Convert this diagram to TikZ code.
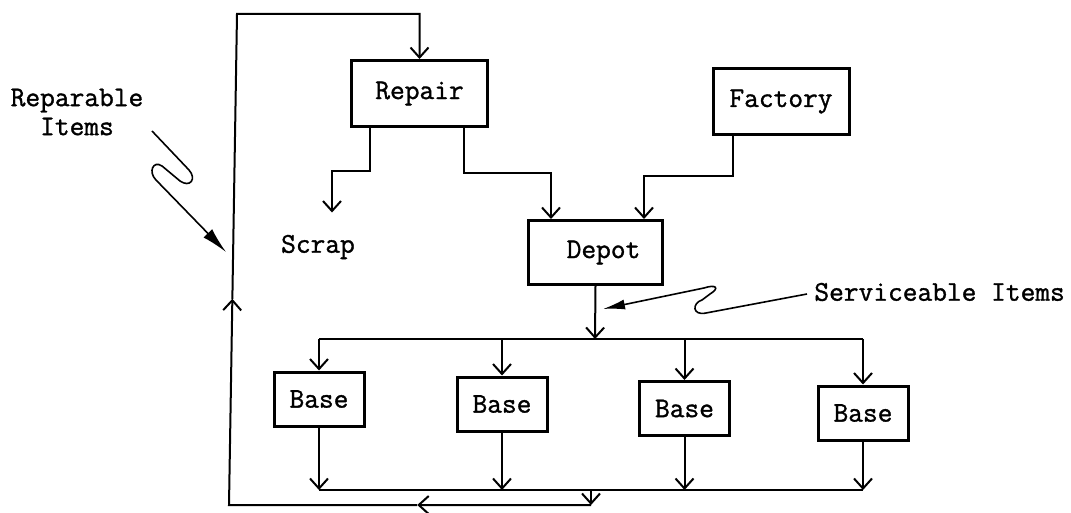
\documentclass[tikz,border=0pt]{standalone}
\usepackage{fontspec}
\usepackage{tikz}
\usetikzlibrary{arrows.meta, calc}
\newfontfamily\typer{Latin Modern Mono}[FakeBold=1.2]
\tikzset{
    box/.style={rectangle, draw=black, line width=1.5pt, inner sep=0pt, font=\typer\fontsize{14.3pt}{14.5pt}\selectfont},
    bigbox/.style={box, minimum width=68pt, minimum height=33pt},
    basebox/.style={box, minimum width=45pt, minimum height=27pt},
    tag/.style={font=\typer\fontsize{14.3pt}{14.5pt}\selectfont, align=center, inner sep=0pt},
    wire/.style={line width=1pt},
    flow/.style={wire, -{Straight Barb[length=5pt, width=9pt, line width=1pt]}},
    squig/.style={line width=0.8pt, -{Latex[length=13pt, width=6pt]}}
}
\begin{document}
\begin{tikzpicture}[x=0.5pt, y=-0.5pt]
    \useasboundingbox (0,0) rectangle (1071,513);

    % main boxes
    \node [bigbox] (repair) at (419.5,93.5) {\raisebox{-3pt}{Repair}};
    \node [bigbox] (factory) at (781,101.5) {\raisebox{-3pt}{Factory}};
    \node [bigbox, minimum width=67pt, minimum height=32pt] (depot) at (595.5,252.5) {\hspace*{8pt}Depot};
    \node [tag] (scrap) at (318,247) {Scrap};

    % bases
    \node [basebox] (base1) at (319,399) {Base};
    \node [basebox] (base2) at (502,404) {Base};
    \node [basebox] (base3) at (684.5,408.5) {Base};
    \node [basebox] (base4) at (863,413) {Base};

    % labels
    \node [tag] (reparable) at (77,112) {Reparable\\Items};
    \node [tag, anchor=west] (serviceable) at (814,292) {Serviceable Items};

    % junctions
    \coordinate (hub) at (595,339);
    \coordinate (coll) at (591,490);
    \coordinate (ret) at (591,505);
    \coordinate (cornerbl) at (229,505);
    \coordinate (cornertl) at (237,14);
    \coordinate (retmid) at ($(ret)!0.48!(cornerbl)$);
    \coordinate (upmid) at ($(cornerbl)!0.42!(cornertl)$);

    % repair outputs
    \draw [flow] ([xshift=10pt]repair.south west) -- ++(0,43) -| ([xshift=7pt, yshift=11pt]scrap.north);
    \draw [flow] ([xshift=-12.5pt]repair.south east) -- ++(0,45) -| ([xshift=12pt]depot.north west);
    \draw [flow] ([xshift=10.5pt]factory.south west) -- ++(0,40) -| ([xshift=-10pt]depot.north east);

    % distribution to bases
    \draw [flow] (depot.south) -- (hub);
    \draw [wire] (base1.north |- hub) -- (base4.north |- hub);
    \foreach \b in {base1, base2, base3, base4}
        \draw [flow] (\b.north |- hub) -- (\b.north);

    % collection from bases
    \foreach \b in {base1, base2, base3, base4}
        \draw [flow] (\b.south) -- (\b.south |- coll);
    \draw [wire] (base1.south |- coll) -- (base4.south |- coll);
    \draw [flow] (coll) -- (ret);

    % return loop
    \draw [flow] (ret) -- (retmid);
    \draw [flow] (retmid) -- (cornerbl) -- (upmid);
    \draw [flow] (upmid) -- (cornertl) -| (repair.north);

    % squiggle pointers
    \draw [squig] (152,131) -- (189,170) .. controls (197,179) and (190,188) .. (180,181)
        -- (162,166) .. controls (153,160) and (148,172) .. (156,180) -- (226,252);
    \draw [squig, -{Latex[length=11pt, width=5pt]}] (807,294) -- (706,313) .. controls (692,316) and (692,303) .. (702,300)
        -- (710,294) .. controls (720,288) and (716,284) .. (704,288) -- (603,309);
\end{tikzpicture}
\end{document}
